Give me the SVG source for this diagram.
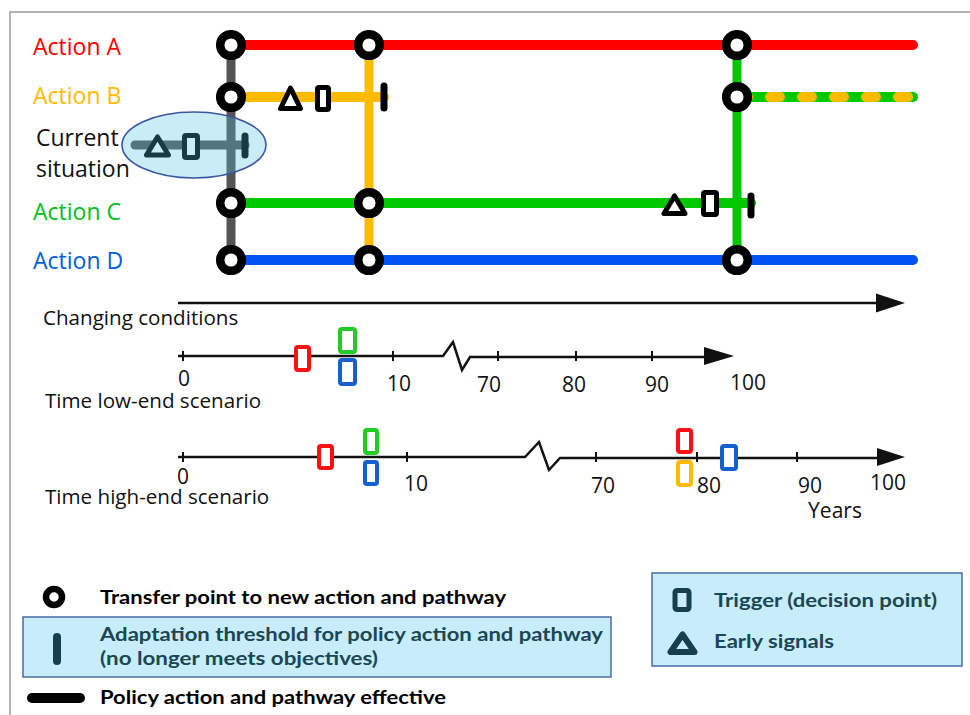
<svg xmlns="http://www.w3.org/2000/svg" width="970" height="715" viewBox="0 0 970 715">
  <defs>
    <style>
      .lbl { font-family: "Open Sans", "Noto Sans", "Liberation Sans", sans-serif; font-size: 23px; }
      .axl { font-family: "Open Sans", "Noto Sans", "Liberation Sans", sans-serif; font-size: 20.6px; fill: #111; }
      .num { font-family: "Open Sans", "Noto Sans", "Liberation Sans", sans-serif; font-size: 21px; fill: #111; text-anchor: middle; }
      .leg { font-family: "Lato", "Open Sans", "Liberation Sans", sans-serif; font-size: 19px; font-weight: 700; }
      .teal { fill: #1b4654; }
      .path { fill: none; stroke-width: 10; stroke-linecap: round; }
      .vert { fill: none; stroke-width: 9; }
      .tp { fill: #fff; stroke: #000; stroke-width: 8.5; }
      .thr { stroke: #000; stroke-width: 7; stroke-linecap: round; }
      .sig { fill: #fff; stroke: #000; stroke-width: 5; stroke-linejoin: round; }
      .trg { fill: #fff; stroke: #000; stroke-width: 5; }
      .axis { fill: none; stroke: #111; stroke-width: 2.5; }
      .tick { stroke: #111; stroke-width: 2; }
      .mk { fill: #fff; stroke-width: 4; }
      .box { fill: #c6edf9; stroke: #4a6aa8; stroke-width: 1.5; }
    </style>
  </defs>

  <rect x="0" y="0" width="970" height="715" fill="#fff"/>

  <!-- page frame -->
  <g id="frame" stroke="#b4b4b4" stroke-width="2" fill="none">
    <path d="M10 715 V12 H970"/>
  </g>

  <!-- pathway lines -->
  <g id="connectors">
    <line class="vert" x1="231" y1="45" x2="231" y2="260" stroke="#555"/>
    <line class="path" x1="231" y1="45" x2="913" y2="45" stroke="#ff0000"/>
    <line class="path" x1="231" y1="97" x2="384" y2="97" stroke="#ffbb00" stroke-linecap="butt"/>
    <line class="path" x1="737" y1="97" x2="913" y2="97" stroke="#00c800"/>
    <path class="path" d="M908 97 H745" stroke="#ffbb00" stroke-dasharray="10 22"/>
    <line class="path" x1="231" y1="203" x2="751" y2="203" stroke="#00c800" stroke-linecap="butt"/>
    <line class="path" x1="231" y1="260" x2="913" y2="260" stroke="#0052f5"/>
    <line class="vert" x1="369" y1="45" x2="369" y2="260" stroke="#ffbb00"/>
    <line class="vert" x1="737" y1="45" x2="737" y2="260" stroke="#00c800"/>
  </g>

  <!-- action labels -->
  <g id="labels" class="lbl">
    <text x="33" y="55" fill="#ff0000">Action A</text>
    <text x="33" y="104" fill="#ffbb00">Action B</text>
    <text x="36" y="146" fill="#111">Current</text>
    <text x="36" y="177" fill="#111">situation</text>
    <text x="33" y="220" fill="#00c020">Action C</text>
    <text x="33" y="269" fill="#0060d8">Action D</text>
  </g>

  <!-- signals, triggers and thresholds along pathways -->
  <g id="pathway-B-marks">
    <path class="sig" d="M290.5 88 L280.5 108.5 H300.5 Z"/>
    <rect class="trg" x="317.5" y="87.5" width="11" height="22" rx="1.5"/>
    <line class="thr" x1="384" y1="86" x2="384" y2="108"/>
  </g>
  <g id="pathway-C-marks">
    <path class="sig" d="M674.5 196 L664 213.5 H685 Z"/>
    <rect class="trg" x="703.5" y="192.5" width="13" height="22" rx="1.5"/>
    <line class="thr" x1="751" y1="196" x2="751" y2="215"/>
  </g>

  <!-- current situation -->
  <g id="current-situation">
    <line x1="135" y1="145" x2="245" y2="145" stroke="#555" stroke-width="9" stroke-linecap="round"/>
    <path class="sig" d="M157.5 137 L146.5 155 H168.5 Z" stroke-width="6"/>
    <rect class="trg" x="184.5" y="135.5" width="13" height="22" rx="1.5"/>
    <line class="thr" x1="245" y1="136" x2="245" y2="155" stroke-width="8"/>
    <ellipse cx="194" cy="145" rx="72" ry="33" fill="#4dc1e6" fill-opacity="0.3" stroke="#3a56a0" stroke-width="1.6"/>
  </g>

  <!-- transfer points -->
  <g id="transfer-points">
    <circle id="tp-a1" class="tp" cx="231" cy="45" r="10.8"/>
    <circle id="tp-a2" class="tp" cx="369" cy="45" r="10.8"/>
    <circle id="tp-a3" class="tp" cx="737" cy="45" r="10.8"/>
    <circle id="tp-b1" class="tp" cx="231" cy="97" r="10.8"/>
    <circle id="tp-b2" class="tp" cx="737" cy="97" r="10.8"/>
    <circle id="tp-c1" class="tp" cx="231" cy="203" r="10.8"/>
    <circle id="tp-c2" class="tp" cx="369" cy="203" r="10.8"/>
    <circle id="tp-d1" class="tp" cx="231" cy="260" r="10.8"/>
    <circle id="tp-d2" class="tp" cx="369" cy="260" r="10.8"/>
    <circle id="tp-d3" class="tp" cx="737" cy="260" r="10.8"/>
  </g>

  <!-- changing conditions axis -->
  <g id="changing-conditions">
    <line class="axis" x1="178" y1="303" x2="880" y2="303" stroke-width="3"/>
    <path d="M876 293.5 L905 303 L876 312.5 Z" fill="#111"/>
    <text class="axl" x="43" y="325">Changing conditions</text>
  </g>

  <!-- low-end scenario timeline -->
  <g id="timeline-low">
    <path class="axis" d="M178 356 H443 L453 342 L462 370 L470 357 H706"/>
    <path d="M704 347 L734 356 L704 365 Z" fill="#111"/>
    <line class="tick" x1="183" y1="351" x2="183" y2="361"/>
    <line class="tick" x1="393" y1="351" x2="393" y2="361"/>
    <line class="tick" x1="498" y1="351" x2="498" y2="361"/>
    <line class="tick" x1="576" y1="351" x2="576" y2="361"/>
    <line class="tick" x1="652" y1="351" x2="652" y2="361"/>
    <rect class="mk" x="296" y="347" width="13" height="23" rx="2" stroke="#ff1010"/>
    <rect class="mk" x="340" y="329" width="15" height="23" rx="2" stroke="#22cc22"/>
    <rect class="mk" x="340" y="360" width="15" height="24" rx="2" stroke="#1560d0"/>
    <text class="num" x="184" y="386">0</text>
    <text class="num" x="399" y="391">10</text>
    <text class="num" x="489" y="392">70</text>
    <text class="num" x="574" y="392">80</text>
    <text class="num" x="657" y="392">90</text>
    <text class="num" x="748" y="390">100</text>
    <text class="axl" x="45" y="408">Time low-end scenario</text>
  </g>

  <!-- high-end scenario timeline -->
  <g id="timeline-high">
    <path class="axis" d="M178 457 H525 L539 442 L549 470 L560 458 H879"/>
    <path d="M877 448 L905 457 L877 466 Z" fill="#111"/>
    <line class="tick" x1="183" y1="452" x2="183" y2="462"/>
    <line class="tick" x1="407" y1="452" x2="407" y2="462"/>
    <line class="tick" x1="596" y1="452" x2="596" y2="462"/>
    <line class="tick" x1="697" y1="452" x2="697" y2="462"/>
    <line class="tick" x1="797" y1="452" x2="797" y2="462"/>
    <rect class="mk" x="319" y="446" width="13" height="22" rx="2" stroke="#ff1010"/>
    <rect class="mk" x="365" y="430" width="12" height="23" rx="2" stroke="#22cc22"/>
    <rect class="mk" x="365" y="462" width="12" height="22" rx="2" stroke="#1560d0"/>
    <rect class="mk" x="678" y="430" width="13" height="22" rx="2" stroke="#ff1010"/>
    <rect class="mk" x="678" y="462" width="13" height="23" rx="2" stroke="#ffbb00"/>
    <rect class="mk" x="722" y="446" width="14" height="23" rx="2" stroke="#1560d0"/>
    <text class="num" x="183" y="484">0</text>
    <text class="num" x="416" y="491">10</text>
    <text class="num" x="603" y="493">70</text>
    <text class="num" x="709" y="493">80</text>
    <text class="num" x="810" y="493">90</text>
    <text class="num" x="888" y="490">100</text>
    <text class="num" x="835" y="518">Years</text>
    <text class="axl" x="45" y="504">Time high-end scenario</text>
  </g>

  <!-- legend -->
  <g id="legend-transfer">
    <circle cx="54" cy="597" r="8" fill="#fff" stroke="#000" stroke-width="6.5"/>
    <text class="leg" x="100" y="604" fill="#000" textLength="406" lengthAdjust="spacingAndGlyphs">Transfer point to new action and pathway</text>
  </g>
  <g id="legend-threshold">
    <rect class="box" x="23" y="617" width="588" height="60"/>
    <line x1="57" y1="637" x2="57" y2="661" stroke="#173f4b" stroke-width="8" stroke-linecap="round"/>
    <text class="leg teal" x="100" y="641" textLength="503" lengthAdjust="spacingAndGlyphs">Adaptation threshold for policy action and pathway</text>
    <text class="leg teal" x="100" y="665" textLength="278" lengthAdjust="spacingAndGlyphs">(no longer meets objectives)</text>
  </g>
  <g id="legend-effective">
    <line x1="32" y1="698" x2="80" y2="698" stroke="#000" stroke-width="10" stroke-linecap="round"/>
    <text class="leg" x="100" y="704" fill="#000" textLength="346" lengthAdjust="spacingAndGlyphs">Policy action and pathway effective</text>
  </g>
  <g id="legend-signals">
    <rect class="box" x="652" y="573" width="310" height="93"/>
    <rect x="675" y="590.5" width="14" height="19" rx="2" fill="none" stroke="#173f4b" stroke-width="5"/>
    <path d="M682.5 634.5 L670.5 652 H694.5 Z" fill="none" stroke="#173f4b" stroke-width="6" stroke-linejoin="round"/>
    <text class="leg teal" x="714" y="607" textLength="223" lengthAdjust="spacingAndGlyphs">Trigger (decision point)</text>
    <text class="leg teal" x="714" y="648" textLength="120" lengthAdjust="spacingAndGlyphs">Early signals</text>
  </g>
</svg>
